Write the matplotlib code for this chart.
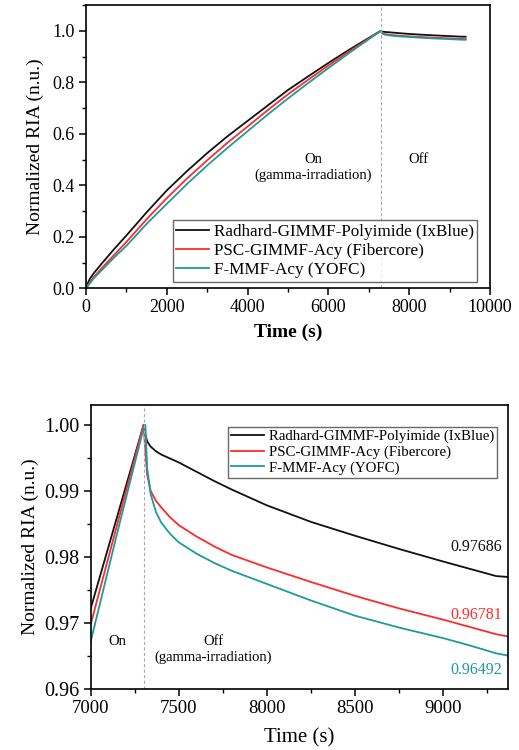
import matplotlib
matplotlib.use("Agg")
import matplotlib.pyplot as plt
from matplotlib.ticker import MultipleLocator, FormatStrFormatter

plt.rcParams['font.family'] = ['Liberation Serif', 'DejaVu Serif']

# ---- data ----
time_s = [0, 50, 100, 200, 400, 700, 1000, 1500, 2000, 2500, 3000, 3500, 4000,
          4500, 5000, 5500, 6000, 6500, 7000, 7150, 7300, 7310, 7320, 7340,
          7370, 7400, 7450, 7500, 7600, 7700, 7800, 8000, 8250, 8500, 8750,
          9000, 9150, 9300, 9400]

ria_ixblue = [0, 0.022, 0.038, 0.06, 0.098, 0.153, 0.205, 0.295, 0.38, 0.455,
              0.525, 0.59, 0.65, 0.71, 0.77, 0.823, 0.875, 0.925, 0.9722,
              0.9861, 1.0, 0.9985, 0.9975, 0.9967, 0.9960, 0.9955, 0.9949,
              0.9943, 0.9929, 0.9915, 0.9902, 0.9878, 0.9853, 0.9832, 0.9812,
              0.9793, 0.9782, 0.9771, 0.9769]

ria_fibercore = [0, 0.012, 0.025, 0.045, 0.08, 0.13, 0.18, 0.268, 0.35, 0.426,
                 0.497, 0.565, 0.628, 0.692, 0.753, 0.81, 0.865, 0.918, 0.9698,
                 0.9849, 1.0, 0.9960, 0.9925, 0.9900, 0.9885, 0.9875, 0.9860,
                 0.9848, 0.9831, 0.9816, 0.9803, 0.9784, 0.9762, 0.9741,
                 0.9722, 0.9705, 0.9694, 0.9683, 0.9678]

ria_yofc = [0, 0.01, 0.02, 0.04, 0.072, 0.12, 0.165, 0.25, 0.328, 0.405, 0.477,
            0.545, 0.61, 0.675, 0.737, 0.797, 0.855, 0.912, 0.9672, 0.9836,
            0.9995, 1.0, 0.9935, 0.9895, 0.9868, 0.9852, 0.9835, 0.9822,
            0.9805, 0.9791, 0.9779, 0.9759, 0.9734, 0.9711, 0.9693, 0.9677,
            0.9666, 0.9654, 0.9649]

labels = ["Radhard-GIMMF-Polyimide (IxBlue)",
          "PSC-GIMMF-Acy (Fibercore)",
          "F-MMF-Acy (YOFC)"]
colors = ["#111111", "#ff2a2a", "#1f9a9a"]
final_values = ["0.97686", "0.96781", "0.96492"]
switch_time = 7300

series = [ria_ixblue, ria_fibercore, ria_yofc]

fig = plt.figure(figsize=(5.19, 7.5), dpi=100)

def style_axes(ax, xsize, ysize):
    for sp in ['top', 'right', 'left', 'bottom']:
        ax.spines[sp].set_linewidth(1.2)
        ax.spines[sp].set_color('black')
    ax.tick_params(which='both', direction='out', top=False, right=False)
    ax.tick_params(which='major', length=5, width=1.1, pad=3)
    ax.tick_params(which='minor', length=3, width=1.0)
    ax.tick_params(axis='x', labelsize=xsize)
    ax.tick_params(axis='y', labelsize=ysize)

# ---- top panel ----
ax1 = fig.add_axes([0.1657, 0.6156, 0.7783, 0.3777])
for y, c, l in zip(series, colors, labels):
    ax1.plot(time_s, y, color=c, lw=1.3, label=l)
ax1.axvline(switch_time, color='#aaaaaa', ls='--', lw=0.8, dashes=(3, 2))
ax1.set_xlim(0, 10000)
ax1.set_ylim(0, 1.1)
ax1.xaxis.set_major_locator(MultipleLocator(2000))
ax1.xaxis.set_minor_locator(MultipleLocator(1000))
ax1.yaxis.set_major_locator(MultipleLocator(0.2))
ax1.yaxis.set_minor_locator(MultipleLocator(0.1))
ax1.yaxis.set_major_formatter(FormatStrFormatter('%.1f'))
style_axes(ax1, 13, 13)
ax1.set_xlabel("Time (s)", fontsize=14, fontweight='bold', labelpad=5)
ax1.set_ylabel("Normalized RIA (n.u.)", fontsize=14, labelpad=6)
ax1.text(5627, 0.50, "On", ha='center', va='center', fontsize=10.5)
ax1.text(5627, 0.44, "(gamma-irradiation)", ha='center', va='center', fontsize=10.5)
ax1.text(8226, 0.50, "Off", ha='center', va='center', fontsize=10.5)
leg1 = ax1.legend(loc='lower right', bbox_to_anchor=(0.9686, 0.023), fontsize=12.3,
                  frameon=True, fancybox=False, edgecolor='#444444',
                  handlelength=1.9, handletextpad=0.3, borderpad=0.2,
                  labelspacing=0.2, borderaxespad=0)
leg1.get_frame().set_linewidth(1.0)

# ---- bottom panel ----
ax2 = fig.add_axes([0.1748, 0.0813, 0.8032, 0.3787])
for y, c, l in zip(series, colors, labels):
    ax2.plot(time_s, y, color=c, lw=1.3, label=l)
ax2.axvline(switch_time, color='#aaaaaa', ls='--', lw=0.8, dashes=(3, 2))
ax2.set_xlim(7000, 9365)
ax2.set_ylim(0.96, 1.003)
ax2.xaxis.set_major_locator(MultipleLocator(500))
ax2.xaxis.set_minor_locator(MultipleLocator(250))
ax2.yaxis.set_major_locator(MultipleLocator(0.01))
ax2.yaxis.set_minor_locator(MultipleLocator(0.005))
ax2.yaxis.set_major_formatter(FormatStrFormatter('%.2f'))
style_axes(ax2, 13.5, 14.5)
ax2.set_xlabel("Time (s)", fontsize=15, labelpad=8)
ax2.set_ylabel("Normalized RIA (n.u.)", fontsize=14, labelpad=4)
ax2.text(7151, 0.9672, "On", ha='center', va='center', fontsize=10.5)
ax2.text(7694, 0.9672, "Off", ha='center', va='center', fontsize=10.5)
ax2.text(7694, 0.9648, "(gamma-irradiation)", ha='center', va='center', fontsize=10.5)
for val, c, yy in zip(final_values, colors, [0.98146, 0.97124, 0.96288]):
    ax2.text(9332, yy, val, ha='right', va='center', fontsize=11.5, color=c)
leg2 = ax2.legend(loc='upper right', bbox_to_anchor=(0.974, 0.9236), fontsize=10.7,
                  frameon=True, fancybox=False, edgecolor='#444444',
                  handlelength=2.2, handletextpad=0.3, borderpad=0.2,
                  labelspacing=0.15, borderaxespad=0)
leg2.get_frame().set_linewidth(1.0)

fig.savefig("out.png", dpi=100)
